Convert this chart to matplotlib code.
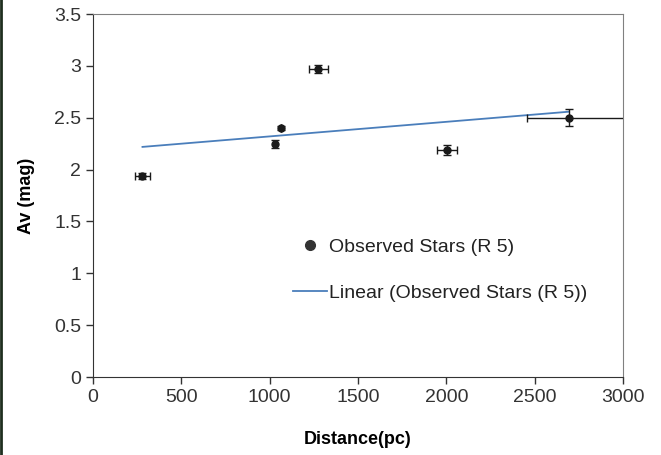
# %%
# Av vs distance, observed stars (R 5) with linear trend.
import numpy as np
import matplotlib
matplotlib.use('Agg')
import matplotlib.pyplot as plt
from matplotlib.lines import Line2D

plt.rcParams['font.family'] = ['Liberation Sans', 'DejaVu Sans']

# %%
# data
distance = [280, 1030, 1065, 1275, 2005, 2695]
av = [1.94, 2.25, 2.40, 2.97, 2.19, 2.50]
dist_err_lo = [45, 0, 0, 55, 55, 240]
dist_err_hi = [45, 0, 0, 55, 55, 700]
av_err = [0.03, 0.04, 0.02, 0.04, 0.05, 0.08]

x_ticks = [0, 500, 1000, 1500, 2000, 2500, 3000]
y_ticks = [0, 0.5, 1, 1.5, 2, 2.5, 3, 3.5]
y_tick_labels = ['0', '0.5', '1', '1.5', '2', '2.5', '3', '3.5']

# %%
fig = plt.figure(figsize=(6.61, 4.55), dpi=100)
ax = fig.add_axes([0.1407, 0.1714, 0.8018, 0.7978])

ax.errorbar(distance, av, xerr=[dist_err_lo, dist_err_hi], yerr=av_err,
            fmt='o', color='#1a1a1a', ms=5, ecolor='#1a1a1a', elinewidth=1,
            capsize=3, capthick=1, label='Observed Stars (R 5)', zorder=3)

# linear trend through the points
k, b = np.polyfit(distance, av, 1)
xs = np.array([min(distance), max(distance)])
ax.plot(xs, k * xs + b, color='#4a7ebb', lw=1.3, label='Linear (Observed Stars (R 5))', zorder=2)

ax.set_xlim(0, 3000)
ax.set_ylim(0, 3.5)
ax.set_xticks(x_ticks)
ax.set_yticks(y_ticks)
ax.set_yticklabels(y_tick_labels)
ax.tick_params(direction='out', length=5, width=1, labelsize=14, labelcolor='#333333', color='#333333')

for side in ['left', 'bottom']:
    ax.spines[side].set_color('#333333')
for side in ['top', 'right']:
    ax.spines[side].set_color('#808080')

ax.set_xlabel('Distance(pc)', fontsize=13, fontweight='bold', labelpad=18)
ax.set_ylabel('Av (mag)', fontsize=13, fontweight='bold', labelpad=14)

# %%
# legend without frame, in the middle
handles, labels = ax.get_legend_handles_labels()
handles = [Line2D([], [], ls='none', marker='o', color='#333333', ms=7), handles[0]]
labels = ['Observed Stars (R 5)', 'Linear (Observed Stars (R 5))']
ax.legend(handles, labels, loc='upper left', bbox_to_anchor=(0.345, 0.43), frameon=False,
          fontsize=14, labelspacing=1.45, handlelength=1.75, handletextpad=0.1,
          labelcolor='#222222')

# dark line at the left image edge
fig.add_artist(Line2D([0.002, 0.002], [0, 1], color='#1f2f1f', lw=2, transform=fig.transFigure))

fig.savefig('out.png', dpi=100)
